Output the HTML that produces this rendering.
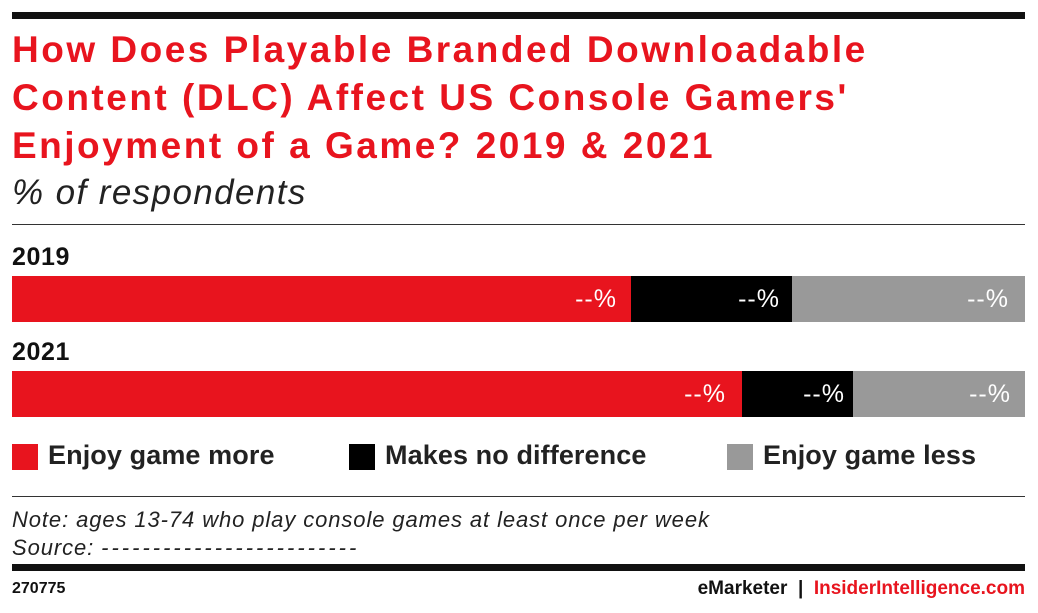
<!DOCTYPE html>
<html><head><style>
body{margin:0;width:1038px;height:613px;background:#fff;font-family:"Liberation Sans",sans-serif;position:relative;overflow:hidden}
div{position:absolute}
.t{left:12px;color:#e8141e;font-weight:bold;font-size:37px;line-height:48px;top:26px;width:1030px;letter-spacing:2.5px;white-space:nowrap}
.bar{height:46px}
.v{color:#fff;font-size:25px;top:9px;position:absolute;letter-spacing:1px}
.lg{font-size:27px;font-weight:bold;top:440px;color:#222;letter-spacing:0.1px}
.sw{width:26px;height:26px;top:444px}
</style></head><body>
<div style="left:12px;top:12px;width:1013px;height:7px;background:#111"></div>
<div class="t">How Does Playable Branded Downloadable<br>Content (DLC) Affect US Console Gamers'<br>Enjoyment of a Game? 2019 &amp; 2021</div>
<div style="left:12px;top:173px;font-size:35px;font-style:italic;color:#222;letter-spacing:1.4px">% of respondents</div>
<div style="left:12px;top:224px;width:1013px;height:1px;background:#333"></div>
<div style="left:12px;top:243px;font-size:25px;font-weight:bold;color:#111;letter-spacing:0.6px">2019</div>
<div class="bar" style="left:12px;top:276px;width:619px;background:#e8141e"><span class="v" style="right:14px">--%</span></div>
<div class="bar" style="left:631px;top:276px;width:161px;background:#000"><span class="v" style="right:12px">--%</span></div>
<div class="bar" style="left:792px;top:276px;width:233px;background:#999"><span class="v" style="right:16px">--%</span></div>
<div style="left:12px;top:338px;font-size:25px;font-weight:bold;color:#111;letter-spacing:0.6px">2021</div>
<div class="bar" style="left:12px;top:371px;width:730px;background:#e8141e"><span class="v" style="right:16px">--%</span></div>
<div class="bar" style="left:742px;top:371px;width:111px;background:#000"><span class="v" style="right:8px">--%</span></div>
<div class="bar" style="left:853px;top:371px;width:172px;background:#999"><span class="v" style="right:14px">--%</span></div>
<div class="sw" style="left:12px;background:#e8141e"></div><div class="lg" style="left:48px">Enjoy game more</div>
<div class="sw" style="left:349px;background:#000"></div><div class="lg" style="left:385px">Makes no difference</div>
<div class="sw" style="left:727px;background:#999"></div><div class="lg" style="left:763px">Enjoy game less</div>
<div style="left:12px;top:496px;width:1013px;height:1px;background:#333"></div>
<div style="left:12px;top:506px;font-size:22px;font-style:italic;color:#222;line-height:28px;letter-spacing:0.9px">Note: ages 13-74 who play console games at least once per week<br>Source: <span style="letter-spacing:3px">-------------------------</span></div>
<div style="left:12px;top:564px;width:1013px;height:7px;background:#111"></div>
<div style="left:12px;top:580px;font-size:16px;font-weight:bold;color:#111">270775</div>
<div style="right:13px;top:578px;font-size:19px;font-weight:bold;color:#111">eMarketer &nbsp;|&nbsp; <span style="color:#e8141e">InsiderIntelligence.com</span></div>
</body></html>
